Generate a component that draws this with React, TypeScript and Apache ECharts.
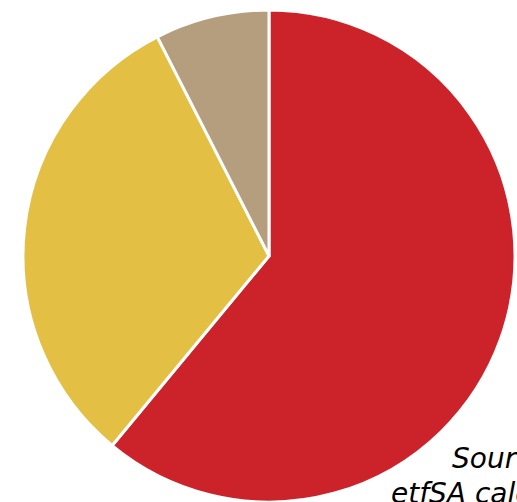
import React, { useEffect, useRef } from "react";
import * as echarts from "echarts";

const categories = ["Red segment", "Yellow segment", "Tan segment"];
const values = [61, 31.5, 7.5];
const colors = ["#CC2229", "#E3BF43", "#B59E7E"];
const sourceLines = ["Source:", "etfSA calculations"];

export default function App() {
  const ref = useRef<HTMLDivElement>(null);
  useEffect(() => {
    document.body.style.margin = "0";
    const chart = echarts.init(ref.current!, undefined, { renderer: "svg" });
    chart.setOption({
      animation: false,
      backgroundColor: "#ffffff",
      series: [
        {
          type: "pie",
          center: [269, 256],
          radius: [0, 246],
          startAngle: 90,
          clockwise: true,
          label: { show: false },
          labelLine: { show: false },
          emphasis: { disabled: true },
          itemStyle: { borderColor: "#ffffff", borderWidth: 3 },
          data: categories.map((name, i) => ({
            name,
            value: values[i],
            itemStyle: { color: colors[i] },
          })),
        },
      ],
      graphic: [
        {
          type: "text",
          left: 452,
          top: 444,
          style: {
            text: sourceLines[0],
            font: "italic 28px 'DejaVu Sans'",
            fill: "#000000",
          },
        },
        {
          type: "text",
          left: 391,
          top: 479,
          style: {
            text: sourceLines[1],
            font: "italic 28px 'DejaVu Sans'",
            fill: "#000000",
          },
        },
      ],
    });
    return () => chart.dispose();
  }, []);
  return <div ref={ref} style={{ width: 517, height: 502 }} />;
}
